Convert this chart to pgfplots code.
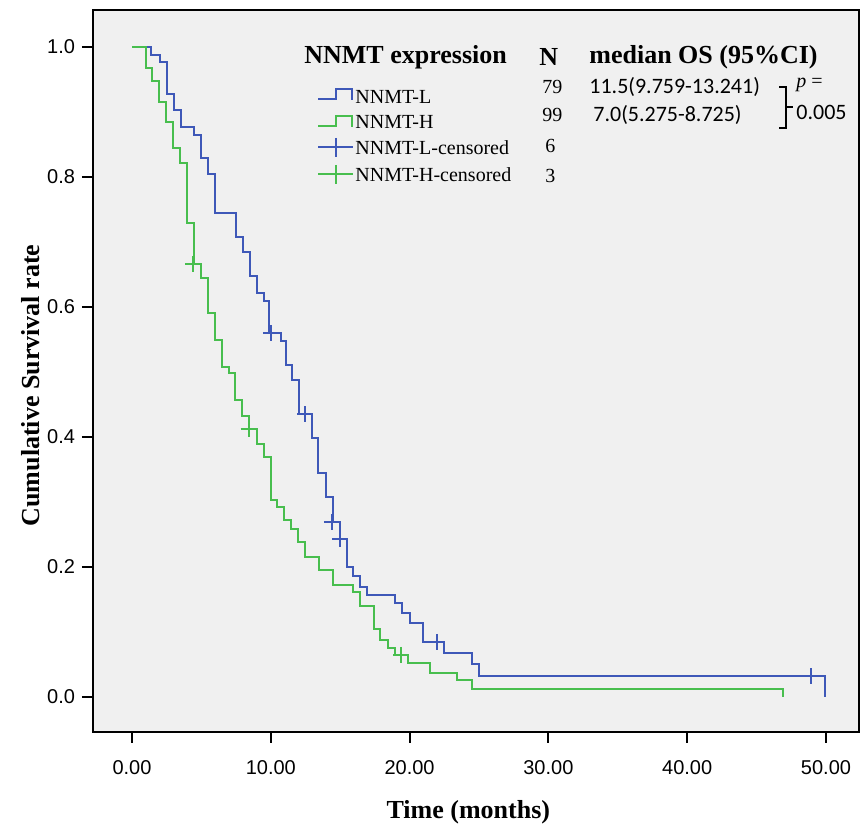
\documentclass[border=0pt]{standalone}
\usepackage{fontspec}
\setmainfont{Liberation Serif}
\newfontfamily\ticksf{Liberation Sans}
\newfontfamily\numsf{Carlito}
\usepackage{pgfplots}
\pgfplotsset{compat=1.18}
\definecolor{kmblue}{RGB}{62,88,184}
\definecolor{kmgreen}{RGB}{72,190,78}
\definecolor{plotbg}{RGB}{240,240,240}

\begin{document}
\begin{tikzpicture}
\begin{axis}[
  at={(0,0)}, anchor=south west,
  scale only axis,
  width=383pt, height=361pt,
  xmin=-2.81, xmax=52.38,
  ymin=-0.0538, ymax=1.057,
  axis background/.style={fill=plotbg},
  axis line style={line width=1pt},
  xtick={0,10,20,30,40,50},
  ytick={0,0.2,0.4,0.6,0.8,1},
  tick align=outside, xtick pos=bottom, ytick pos=left,
  major tick length=5.5pt,
  tick style={black, line width=1pt},
  /pgf/number format/assume math mode=true,
  xticklabel style={font=\ticksf\fontsize{10}{12}\selectfont, yshift=-5pt,
    /pgf/number format/.cd, fixed, fixed zerofill, precision=2},
  yticklabel style={font=\ticksf\fontsize{10}{12}\selectfont,
    /pgf/number format/.cd, fixed, fixed zerofill, precision=1},
  xlabel={Time (months)},
  ylabel={Cumulative Survival rate},
  every axis x label/.style={at={(axis description cs:0.49,-0.111)}, anchor=center,
    font=\bfseries\fontsize{13}{15}\selectfont},
  every axis y label/.style={at={(axis description cs:-0.082,0.48)}, anchor=center, rotate=90,
    font=\bfseries\fontsize{13}{15}\selectfont},
  clip=false,
]
% NNMT-L
\addplot[const plot, kmblue, line width=1pt] coordinates {
  (0,1) (1.4,0.988) (2.0,0.977) (2.5,0.928) (3.0,0.903) (3.5,0.877)
  (4.5,0.865) (5.0,0.83) (5.5,0.805) (6.0,0.744) (7.5,0.707) (8.0,0.684)
  (8.5,0.647) (9.0,0.621) (9.5,0.61) (9.9,0.56) (10.7,0.547) (11.1,0.511)
  (11.5,0.488) (12.0,0.435) (12.95,0.398) (13.4,0.345) (14.0,0.307)
  (14.45,0.27) (14.95,0.243) (15.5,0.2) (15.95,0.186) (16.4,0.17)
  (16.95,0.157) (18.95,0.144) (19.45,0.13) (20.0,0.114) (21.0,0.085)
  (22.45,0.068) (24.5,0.051) (25.0,0.032) (49.9,0.032) (49.9,0.0)
};
% NNMT-H
\addplot[const plot, kmgreen, line width=1pt] coordinates {
  (0,1) (1.0,0.968) (1.45,0.947) (1.95,0.916) (2.45,0.885) (2.95,0.844)
  (3.45,0.822) (3.95,0.73) (4.45,0.666) (5.0,0.644) (5.5,0.591)
  (5.95,0.549) (6.5,0.507) (6.98,0.498) (7.45,0.457) (7.95,0.432)
  (8.45,0.413) (9.0,0.39) (9.5,0.369) (10.0,0.303) (10.45,0.293)
  (10.95,0.272) (11.45,0.259) (11.95,0.239) (12.45,0.216) (13.45,0.195)
  (14.45,0.172) (15.95,0.162) (16.45,0.14) (17.4,0.105) (17.9,0.088)
  (18.45,0.075) (18.95,0.065) (19.9,0.052) (21.5,0.037) (23.4,0.026)
  (24.5,0.013) (46.9,0.013) (46.9,0.0)
};
% censored
\addplot[only marks, mark=+, mark size=4pt, kmblue, line width=1pt] coordinates {
  (10.0,0.56) (12.5,0.435) (14.4,0.27) (15.0,0.243) (21.95,0.085) (48.9,0.032)
};
\addplot[only marks, mark=+, mark size=4pt, kmgreen, line width=1pt] coordinates {
  (4.4,0.666) (8.4,0.413) (19.4,0.065)
};
\end{axis}

% legend table, coordinates in image pixels
\begin{scope}[x=0.5pt, y=-0.5pt, shift={(-46.5pt,366pt)}]
\path[use as bounding box] (0,0) rectangle (862,829);
\begin{scope}[every node/.style={inner sep=0pt, anchor=west}]
\node[font=\bfseries\fontsize{13}{15}\selectfont] at (304,57) {NNMT expression};
\node[font=\bfseries\fontsize{13}{15}\selectfont] at (539,57) {N};
\node[font=\bfseries\fontsize{13}{15}\selectfont] at (589,57) {median OS (95\%CI)};
\node[font=\fontsize{10}{12}\selectfont] at (355,97) {NNMT-L};
\node[font=\fontsize{10}{12}\selectfont] at (355,122) {NNMT-H};
\node[font=\fontsize{10}{12}\selectfont] at (355,148) {NNMT-L-censored};
\node[font=\fontsize{10}{12}\selectfont] at (355,175) {NNMT-H-censored};
\node[font=\fontsize{10}{12}\selectfont] at (542,87) {79};
\node[font=\fontsize{10}{12}\selectfont] at (542,115) {99};
\node[font=\fontsize{10}{12}\selectfont] at (545,146) {6};
\node[font=\fontsize{10}{12}\selectfont] at (545,176) {3};
\node[font=\numsf\fontsize{11}{13}\selectfont] at (589,87) {11.5(9.759-13.241)};
\node[font=\numsf\fontsize{11}{13}\selectfont] at (593,115) {7.0(5.275-8.725)};
\node[font=\fontsize{10}{12}\selectfont] at (796,85) {\textit{p} =};
\node[font=\numsf\fontsize{11}{13}\selectfont] at (796,112) {0.005};
\end{scope}
\draw[line width=0.6pt] (779,87) -- (786,87) -- (786,128) -- (779,128);
\draw[line width=0.6pt] (786,107) -- (793,107);
\draw[kmblue, line width=1pt] (318,99) -- (336,99) -- (336,89.5) -- (352,89.5) -- (352,100);
\draw[kmgreen, line width=1pt] (318,126) -- (336,126) -- (336,116.5) -- (352,116.5) -- (352,127);
\draw[kmblue, line width=1pt] (318,147) -- (353,147) (336,138) -- (336,157);
\draw[kmgreen, line width=1pt] (318,174) -- (353,174) (336,165) -- (336,184);
\end{scope}
\end{tikzpicture}
\end{document}
